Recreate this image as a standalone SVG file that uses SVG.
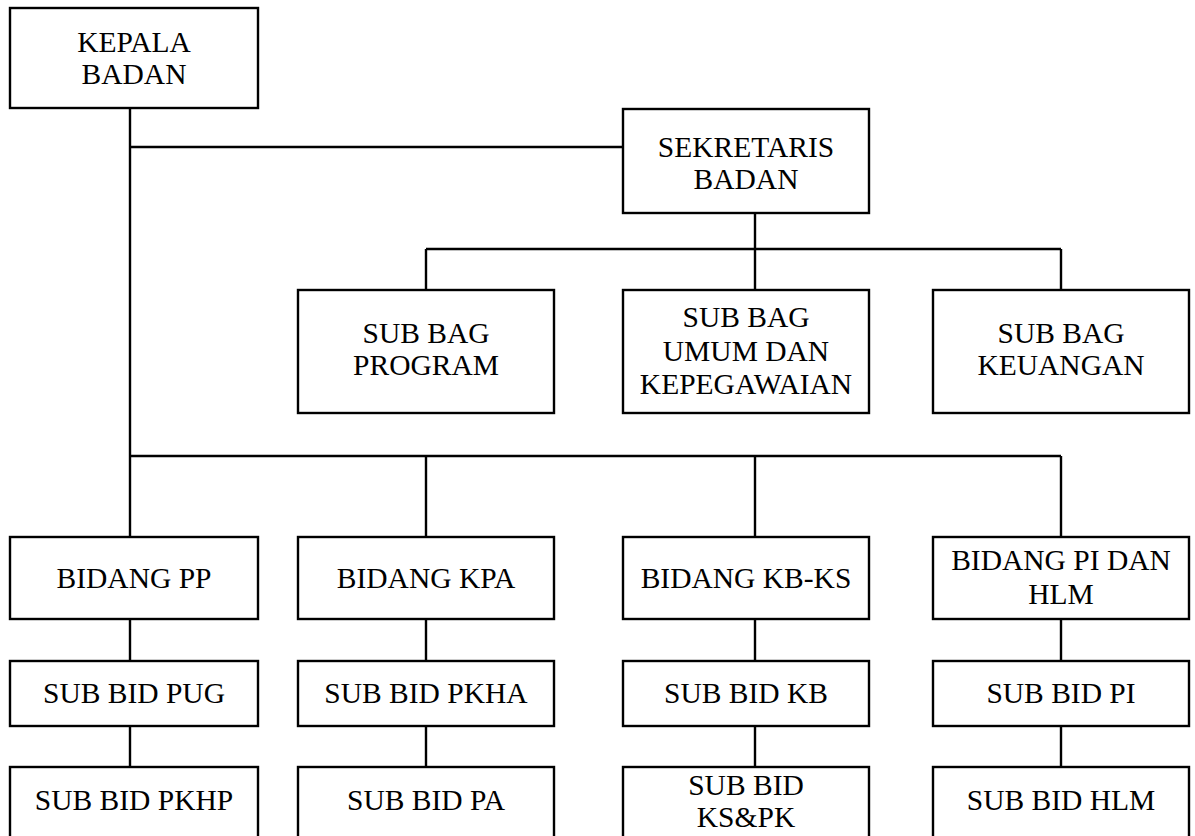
<svg xmlns="http://www.w3.org/2000/svg" width="1195" height="836" viewBox="0 0 1195 836" font-family="'Liberation Serif', 'Times New Roman', Times, serif">
<style>
.box{fill:#fff;stroke:#000;stroke-width:2.4}
.ln{stroke:#000;stroke-width:2.4;fill:none}
.t{font-family:'Liberation Serif', 'Times New Roman', Times, serif;font-size:29.5px;fill:#000;text-anchor:middle}
</style>
<rect width="1195" height="836" fill="#fff"/>
<g id="connectors">
<path class="ln" d="M130 108V537M130 147H623M755 213V249M426 249H1061M426 249V290M755 249V290M1061 249V290M130 456H1061M426 456V537M755 456V537M1061 456V537"/>
<path class="ln" d="M130 619V661M130 726V767M426 619V661M426 726V767M755 619V661M755 726V767M1061 619V661M1061 726V767"/>
</g>
<g id="kepala"><rect class="box" x="10" y="8" width="248" height="100"/><text class="t" x="134" y="52">KEPALA</text><text class="t" x="134" y="84">BADAN</text></g>
<g id="sekretaris"><rect class="box" x="623" y="109" width="246" height="104"/><text class="t" x="746" y="157">SEKRETARIS</text><text class="t" x="746" y="189">BADAN</text></g>
<g id="subbag-program"><rect class="box" x="298" y="290" width="256" height="123"/><text class="t" x="426" y="343">SUB BAG</text><text class="t" x="426" y="375">PROGRAM</text></g>
<g id="subbag-umum"><rect class="box" x="623" y="290" width="246" height="123"/><text class="t" x="746" y="327">SUB BAG</text><text class="t" x="746" y="361">UMUM DAN</text><text class="t" x="746" y="394">KEPEGAWAIAN</text></g>
<g id="subbag-keuangan"><rect class="box" x="933" y="290" width="256" height="123"/><text class="t" x="1061" y="343">SUB BAG</text><text class="t" x="1061" y="375">KEUANGAN</text></g>
<g id="bidang-pp"><rect class="box" x="10" y="537" width="248" height="82"/><text class="t" x="134" y="588">BIDANG PP</text></g>
<g id="bidang-kpa"><rect class="box" x="298" y="537" width="256" height="82"/><text class="t" x="426" y="588">BIDANG KPA</text></g>
<g id="bidang-kbks"><rect class="box" x="623" y="537" width="246" height="82"/><text class="t" x="746" y="588">BIDANG KB-KS</text></g>
<g id="bidang-pi"><rect class="box" x="933" y="537" width="256" height="82"/><text class="t" x="1061" y="570">BIDANG PI DAN</text><text class="t" x="1061" y="604">HLM</text></g>
<g id="subbid-pug"><rect class="box" x="10" y="661" width="248" height="65"/><text class="t" x="134" y="703">SUB BID PUG</text></g>
<g id="subbid-pkha"><rect class="box" x="298" y="661" width="256" height="65"/><text class="t" x="426" y="703">SUB BID PKHA</text></g>
<g id="subbid-kb"><rect class="box" x="623" y="661" width="246" height="65"/><text class="t" x="746" y="703">SUB BID KB</text></g>
<g id="subbid-pi"><rect class="box" x="933" y="661" width="256" height="65"/><text class="t" x="1061" y="703">SUB BID PI</text></g>
<g id="subbid-pkhp"><rect class="box" x="10" y="767" width="248" height="72"/><text class="t" x="134" y="810">SUB BID PKHP</text></g>
<g id="subbid-pa"><rect class="box" x="298" y="767" width="256" height="72"/><text class="t" x="426" y="810">SUB BID PA</text></g>
<g id="subbid-kspk"><rect class="box" x="623" y="767" width="246" height="72"/><text class="t" x="746" y="795">SUB BID</text><text class="t" x="746" y="827">KS&amp;PK</text></g>
<g id="subbid-hlm"><rect class="box" x="933" y="767" width="256" height="72"/><text class="t" x="1061" y="810">SUB BID HLM</text></g>
</svg>
